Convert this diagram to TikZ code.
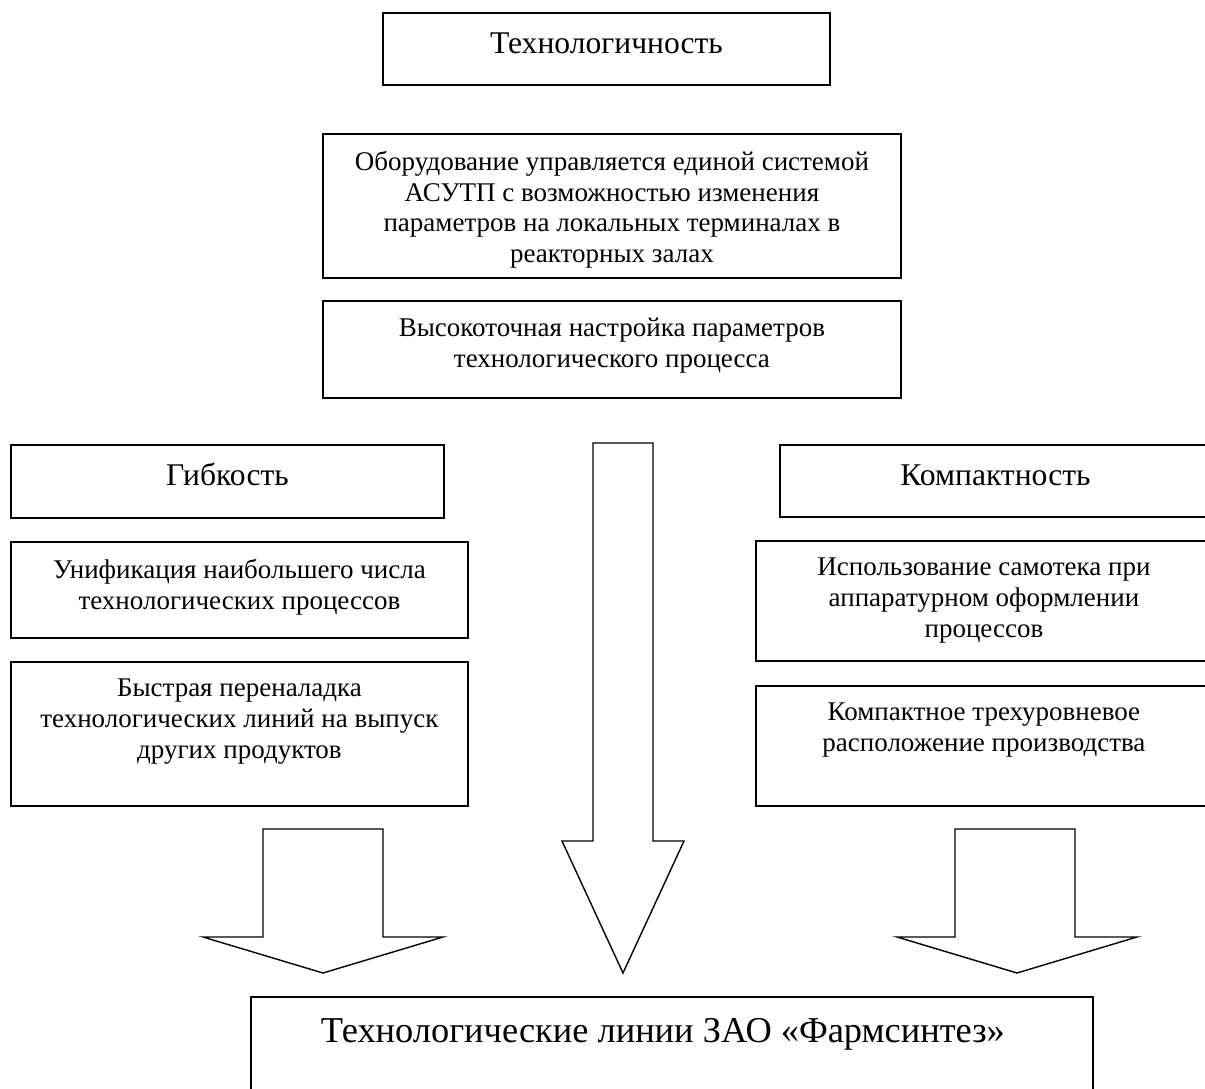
\documentclass[tikz,border=0pt]{standalone}
\usepackage{fontspec}
\setmainfont{Liberation Serif}
\usetikzlibrary{positioning}
\tikzset{
  panel/.style={draw=black, line width=1.9pt, anchor=north west, inner sep=0pt},
  textbase/.style={inner sep=0pt, align=center, execute at begin node={\vphantom{Фб}}},
  paneltext/.style={textbase, font=\fontsize{27}{30.7}\selectfont},
  headtext/.style={textbase, font=\fontsize{31.6}{36}\selectfont},
  bigtext/.style={textbase, font=\fontsize{36.4}{42}\selectfont},
  blockarrow/.style={draw=black, line width=1.4pt, line join=miter, fill=white}
}

\begin{document}
\begin{tikzpicture}[x=1pt, y=-1pt]
  \useasboundingbox (0,0) rectangle (1205,1089);
  \clip (0,0) rectangle (1205,1089);

  % top column
  \node[panel, minimum width=447pt, minimum height=72pt] (tech) at (382,12) {};
  \node[headtext, below=19pt of tech.north] (techtxt) {Технологичность};
  \node[panel, minimum width=578pt, minimum height=144pt] (equip) at (322,133) {};
  \node[paneltext, below=18pt of equip.north] (equiptxt) {Оборудование управляется единой системой\\АСУТП с возможностью изменения\\параметров на локальных терминалах в\\реакторных залах};
  \node[panel, minimum width=578pt, minimum height=97pt] (tune) at (322,300) {};
  \node[paneltext, below=18pt of tune.north] (tunetxt) {Высокоточная настройка параметров\\технологического процесса};

  % left column
  \node[panel, minimum width=433pt, minimum height=73pt] (flex) at (10,444) {};
  \node[headtext, below=19pt of flex.north] (flextxt) {Гибкость};
  \node[panel, minimum width=457pt, minimum height=96pt] (unify) at (10,541) {};
  \node[paneltext, below=18pt of unify.north] (unifytxt) {Унификация наибольшего числа\\технологических процессов};
  \node[panel, minimum width=457pt, minimum height=144pt] (retool) at (10,661) {};
  \node[paneltext, below=18pt of retool.north] (retooltxt) {Быстрая переналадка\\технологических линий на выпуск\\других продуктов};

  % right column
  \node[panel, minimum width=431pt, minimum height=72pt] (compact) at (779,444) {};
  \node[headtext, below=19pt of compact.north] (compacttxt) {Компактность};
  \node[panel, minimum width=456pt, minimum height=120pt] (gravity) at (755,540) {};
  \node[paneltext, below=18pt of gravity.north] (gravitytxt) {Использование самотека при\\аппаратурном оформлении\\процессов};
  \node[panel, minimum width=456pt, minimum height=120pt] (tiers) at (755,685) {};
  \node[paneltext, below=18pt of tiers.north] (tierstxt) {Компактное трехуровневое\\расположение производства};

  % result
  \node[panel, minimum width=842pt, minimum height=140pt] (lines) at (250,996) {};
  \node[bigtext, below=20pt of lines.north, xshift=-9pt] (linestxt) {Технологические линии ЗАО «Фармсинтез»};

  % block arrows
  \draw[blockarrow] (263,829) -- (383,829) -- (383,937) -- (443,937) -- (323,973)
    -- (203,937) -- (263,937) -- cycle;
  \draw[blockarrow] (593,443) -- (653,443) -- (653,841) -- (684,841) -- (623,973)
    -- (562,841) -- (593,841) -- cycle;
  \draw[blockarrow] (955,829) -- (1075,829) -- (1075,937) -- (1137,937) -- (1017,973)
    -- (897,937) -- (955,937) -- cycle;
\end{tikzpicture}
\end{document}
